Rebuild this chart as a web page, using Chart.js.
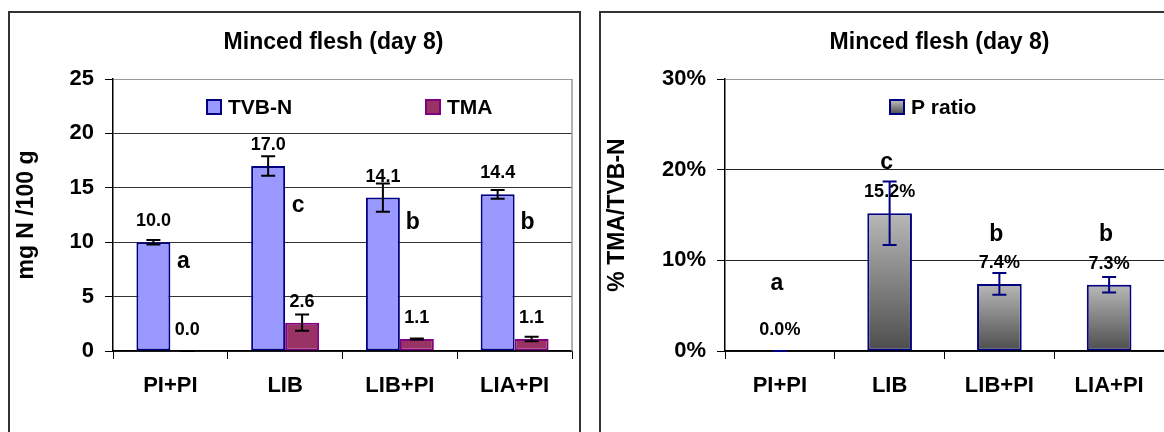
<!DOCTYPE html>
<html><head><meta charset="utf-8">
<script src="https://cdn.jsdelivr.net/npm/chart.js@4.4.0/dist/chart.umd.min.js"></script>
<style>
html,body{margin:0;padding:0;background:#fff;overflow:hidden;width:1164px;height:432px;}
.box{position:absolute;top:11px;border:2px solid #333;background:#fff;}
#boxL{left:8px;width:569px;height:440px;}
#boxR{left:599px;width:600px;height:440px;}
canvas{display:block;}
</style></head><body>
<div class="box" id="boxL"><canvas id="cL" width="569" height="430"></canvas></div>
<div class="box" id="boxR"><canvas id="cR" width="600" height="430"></canvas></div>
<script>
// ---- data ----
const categories = ['PI+PI', 'LIB', 'LIB+PI', 'LIA+PI'];
const tvbn = [10.0, 17.0, 14.1, 14.4];
const tvbnErr = [0.2, 0.9, 1.3, 0.4];
const tma = [0.0, 2.6, 1.1, 1.1];
const tmaErr = [0.0, 0.75, 0.05, 0.2];
const tvbnLetters = ['a', 'c', 'b', 'b'];
const tvbnLetterAt = [8.2, 13.4, 11.8, 11.8];
const pRatio = [0.0, 15.2, 7.4, 7.3];
const pRatioErr = [0.0, 3.5, 1.2, 0.85];
const pLetters = ['a', 'c', 'b', 'b'];
const pLetterAt = [7.4, 20.8, 12.8, 12.8];
const leftTicks = [0, 5, 10, 15, 20, 25];
const rightTicks = [0, 10, 20, 30];
const rightTickLabels = ['0%', '10%', '20%', '30%'];
const titleText = 'Minced flesh (day 8)';

const FF = "'Liberation Sans', Arial, sans-serif";
const bold = s => ({family: FF, size: s, weight: 'bold'});

const decor = {
  id: 'decor',
  afterDatasetsDraw(chart, args, o) {
    const ctx = chart.ctx, ys = chart.scales.y, ca = chart.chartArea;
    ctx.save();
    if (o.rightBorder) {
      ctx.strokeStyle = '#999'; ctx.lineWidth = 1.5;
      ctx.beginPath(); ctx.moveTo(ca.right, ca.top); ctx.lineTo(ca.right, ca.bottom); ctx.stroke();
    }
    chart.data.datasets.forEach((ds, di) => {
      const meta = chart.getDatasetMeta(di);
      meta.data.forEach((el, i) => {
        const v = ds.data[i], e = ds.errors[i];
        const yt = ys.getPixelForValue(v + e), yb = ys.getPixelForValue(v - e);
        ctx.strokeStyle = ds.errColor; ctx.lineWidth = 2;
        ctx.beginPath();
        ctx.moveTo(el.x, yt); ctx.lineTo(el.x, yb);
        ctx.moveTo(el.x - 7, yt); ctx.lineTo(el.x + 7, yt);
        ctx.moveTo(el.x - 7, yb); ctx.lineTo(el.x + 7, yb);
        ctx.stroke();
      });
    });
    chart.data.datasets.forEach((ds, di) => {
      const meta = chart.getDatasetMeta(di);
      meta.data.forEach((el, i) => {
        const v = ds.data[i];
        ctx.fillStyle = '#000'; ctx.font = 'bold 18px ' + FF;
        ctx.textAlign = 'center'; ctx.textBaseline = 'middle';
        ctx.fillText(v.toFixed(1) + (ds.suffix || ''), el.x, ys.getPixelForValue(v) - 21);
        if (ds.letters) {
          ctx.font = 'bold 23px ' + FF;
          const lx = ds.letterSide ? el.x + el.width / 2 + 13 : el.x - 3;
          ctx.fillText(ds.letters[i], lx, ys.getPixelForValue(ds.letterAt[i]));
        }
      });
    });
    ctx.fillStyle = '#000';
    ctx.font = 'bold 23px ' + FF; ctx.textAlign = 'center'; ctx.textBaseline = 'middle';
    ctx.fillText(titleText, (ca.left + ca.right) / 2 + o.titleDx, 30);
    o.legend.forEach(it => {
      let fill = it.fill;
      if (fill === 'grad') {
        fill = ctx.createLinearGradient(0, 87, 0, 101);
        fill.addColorStop(0, '#c0c0c0'); fill.addColorStop(1, '#4d4d4d');
      }
      ctx.fillStyle = fill; ctx.fillRect(it.x, 87, 14, 14);
      ctx.strokeStyle = it.stroke; ctx.lineWidth = 2; ctx.strokeRect(it.x, 87, 14, 14);
      ctx.fillStyle = '#000'; ctx.font = 'bold 21px ' + FF; ctx.textAlign = 'left';
      ctx.fillText(it.text, it.x + 21, 95);
    });
    ctx.restore();
  }
};

function xScale() {
  return {
    grid: {drawOnChartArea: false, drawTicks: true, tickLength: 8, tickColor: '#000', offset: true},
    border: {color: '#000', width: 1.5},
    ticks: {font: bold(22), color: '#000', padding: 14},
    afterFit: s => { s.height = 92; }
  };
}

new Chart(document.getElementById('cL'), {
  type: 'bar',
  data: {
    labels: categories,
    datasets: [
      {label: 'TVB-N', data: tvbn, errors: tvbnErr, errColor: '#000',
       letters: tvbnLetters, letterAt: tvbnLetterAt, letterSide: true,
       backgroundColor: '#9999ff', borderColor: '#000080',
       borderWidth: c => (c.raw === 0 ? 0 : 2), borderSkipped: false},
      {label: 'TMA', data: tma, errors: tmaErr, errColor: '#000',
       backgroundColor: '#993366', borderColor: '#800080',
       borderWidth: c => (c.raw === 0 ? 0 : 2), borderSkipped: false}
    ]
  },
  options: {
    responsive: false, animation: false,
    categoryPercentage: 0.592, barPercentage: 1,
    layout: {padding: {top: 66, right: 7, left: 0, bottom: 0}},
    plugins: {legend: {display: false}, tooltip: {enabled: false},
      decor: {rightBorder: true, titleDx: -9, legend: [
        {x: 197, fill: '#9999ff', stroke: '#000080', text: 'TVB-N'},
        {x: 416, fill: '#993366', stroke: '#800080', text: 'TMA'}]}},
    scales: {
      x: xScale(),
      y: {
        min: 0, max: 25,
        afterBuildTicks: s => { s.ticks = leftTicks.map(v => ({value: v})); },
        ticks: {font: bold(22), color: '#000', padding: 11},
        grid: {color: c => (c.tick && c.tick.value === 25 ? '#999' : '#333'), tickColor: '#000', tickLength: 8, lineWidth: 1},
        border: {color: '#000', width: 1.5},
        title: {display: true, text: 'mg N /100 g', font: bold(23), color: '#000', padding: {top: 3, bottom: 0}},
        afterFit: s => { s.width = 103; }
      }
    }
  },
  plugins: [decor]
});

function grayGrad(c) {
  const ch = c.chart;
  if (!ch.chartArea || c.type !== 'data' || !ch.scales.y) return '#888';
  const ys = ch.scales.y;
  const top = ys.getPixelForValue(c.raw), base = ys.getPixelForValue(0);
  if (base - top < 1) return '#888';
  const g = ch.ctx.createLinearGradient(0, top, 0, base);
  g.addColorStop(0, '#b8b8b8'); g.addColorStop(1, '#4d4d4d');
  return g;
}

new Chart(document.getElementById('cR'), {
  type: 'bar',
  data: {
    labels: categories,
    datasets: [
      {label: 'P ratio', data: pRatio, errors: pRatioErr, errColor: '#000080', suffix: '%',
       letters: pLetters, letterAt: pLetterAt, letterSide: false,
       backgroundColor: grayGrad, borderColor: '#000080',
       borderWidth: c => (c.raw === 0 ? 0 : 2), borderSkipped: false}
    ]
  },
  options: {
    responsive: false, animation: false,
    categoryPercentage: 0.407, barPercentage: 1,
    layout: {padding: {top: 66, right: 37, left: 0, bottom: 0}},
    plugins: {legend: {display: false}, tooltip: {enabled: false},
      decor: {rightBorder: false, titleDx: -5, legend: [
        {x: 289, fill: 'grad', stroke: '#000080', text: 'P ratio'}]}},
    scales: {
      x: xScale(),
      y: {
        min: 0, max: 30,
        afterBuildTicks: s => { s.ticks = rightTicks.map(v => ({value: v})); },
        ticks: {font: bold(22), color: '#000', padding: 11, callback: (v, i) => rightTickLabels[i]},
        grid: {color: c => (c.tick && c.tick.value === 30 ? '#999' : '#222'), tickColor: '#000', tickLength: 8, lineWidth: 1},
        border: {color: '#000', width: 1.5},
        title: {display: true, text: '% TMA/TVB-N', font: bold(23), color: '#000', padding: {top: 3, bottom: 0}},
        afterFit: s => { s.width = 124; }
      }
    }
  },
  plugins: [decor]
});
</script>
</body></html>
